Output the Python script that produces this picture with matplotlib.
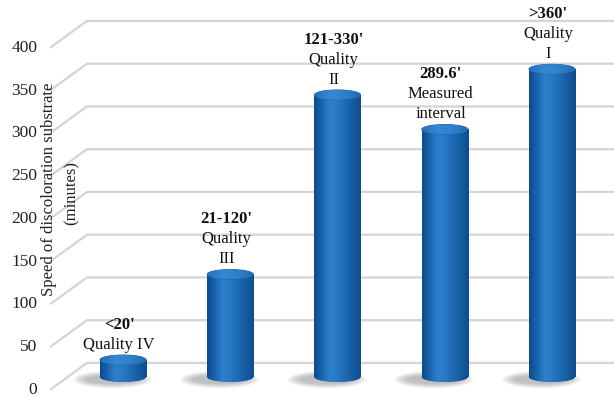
import matplotlib
matplotlib.use('Agg')
import matplotlib.pyplot as plt
import numpy as np
from matplotlib.patches import Ellipse
from matplotlib.colors import LinearSegmentedColormap

# minutes until the substrate is discoloured
values = [20, 120, 330, 289.6, 360]
head = ["<20'", "21-120'", "121-330'", "289.6'", ">360'"]
notes = [['Quality IV'], ['Quality', 'III'], ['Quality', 'II'],
         ['Measured', 'interval'], ['Quality', 'I']]
yticks = [0, 50, 100, 150, 200, 250, 300, 350, 400]

plt.rcParams['font.family'] = ['Liberation Serif', 'DejaVu Serif']

fig = plt.figure(figsize=(6.14, 3.98), dpi=100)
ax = fig.add_axes([0, 0, 1, 1])
ax.set_xlim(-1.147, 4.578)
ax.set_ylim(-24.6, 440.9)
ax.axis('off')

# floor / wall grid, slanted like a 3d chart
front_x, back_x = -0.681, -0.336
front_dy, back_dy = -15.0, 16.4
for v in yticks:
    ax.plot([front_x, back_x, 4.6], [v + front_dy, v + back_dy, v + back_dy],
            color='#d4d4d4', lw=1.6, zorder=1, solid_capstyle='butt')
    ax.text(-0.8, v + front_dy, str(v), ha='right', va='center',
            fontsize=12.5, color='#222222')

ax.text(-0.69, 220, 'Speed of discoloration substrate', rotation=90,
        ha='center', va='center', fontsize=12, color='#222222')
ax.text(-0.476, 215, '(minutes)', rotation=90,
        ha='center', va='center', fontsize=12, color='#222222')

side = LinearSegmentedColormap.from_list(
    'side', ['#0d4a8a', '#1a65b0', '#2e80cc', '#2978c4', '#1e6ab4', '#155c9f', '#0e4d8c'])
cap = LinearSegmentedColormap.from_list('cap', ['#2170bc', '#3788d2', '#2f80ca', '#1f6bb5'])
grad = np.linspace(0, 1, 200).reshape(1, -1)

w = 0.43
eh = 11.5
x = np.arange(len(values))

# soft shadow on the floor, thrown a bit to the left
for i in x:
    for k in range(6):
        sh = Ellipse((i - 0.1, -3), w + 0.3 - k * 0.045, 20 - k * 2,
                     color='#707070', alpha=0.09, lw=0, zorder=2)
        ax.add_patch(sh)

bars = ax.bar(x, values, width=w, color='#1b65ae', zorder=3)
for i, b in enumerate(bars):
    v = values[i]
    im = ax.imshow(grad, cmap=side, aspect='auto', zorder=4,
                   extent=(i - w / 2, i + w / 2, -eh, v))
    im.set_clip_path(b)
    bottom = Ellipse((i, 0), w, eh, color='#1b65ae', lw=0, zorder=3)
    ax.add_patch(bottom)
    im2 = ax.imshow(grad, cmap=side, aspect='auto', zorder=4,
                    extent=(i - w / 2, i + w / 2, -eh, eh))
    im2.set_clip_path(bottom)
    top = Ellipse((i, v), w, eh, color='#2a78c4', lw=0.6, ec='#1a5fa3', zorder=5)
    ax.add_patch(top)
    im3 = ax.imshow(grad, cmap=cap, aspect='auto', zorder=5,
                    extent=(i - w / 2, i + w / 2, v - eh, v + eh))
    im3.set_clip_path(top)

    lines = notes[i]
    n = len(lines)
    for k, t in enumerate(lines):
        ax.annotate(t, (i, v), xytext=(-4, 15 + 20 * (n - 1 - k)),
                    textcoords='offset pixels', ha='center', va='center',
                    fontsize=12, color='#111111', zorder=6)
    ax.annotate(head[i], (i, v), xytext=(-4, 15 + 20 * n),
                textcoords='offset pixels', ha='center', va='center',
                fontsize=12, fontweight='bold', color='#111111', zorder=6)

fig.savefig('out.png', dpi=100)
